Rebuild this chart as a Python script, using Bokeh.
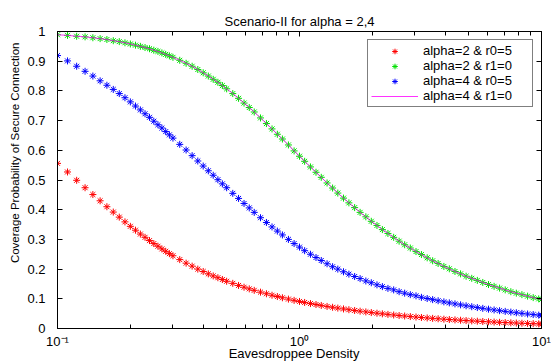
import math
from bokeh.plotting import figure
from bokeh.models import (Range1d, LogAxis, LinearAxis, FixedTicker,
                          Legend, LegendItem, ColumnDataSource, CustomJSTickFormatter)
from bokeh.embed import file_html
from bokeh.resources import INLINE

# ---- data ----
density = [0.10, 0.11, 0.12, 0.13, 0.14, 0.15, 0.16, 0.17, 0.18, 0.19, 0.20,
           0.21, 0.22, 0.23, 0.24, 0.25, 0.26, 0.27, 0.28, 0.29, 0.30,
           0.32, 0.34, 0.36, 0.38, 0.40, 0.42, 0.44, 0.46, 0.48, 0.50,
           0.53, 0.56, 0.59, 0.62, 0.65, 0.69, 0.73, 0.77, 0.81, 0.85, 0.90, 0.95, 1.00,
           1.05, 1.11, 1.17, 1.23, 1.30, 1.37, 1.44, 1.52, 1.60, 1.69, 1.78, 1.88, 1.98,
           2.09, 2.20, 2.32, 2.45, 2.58, 2.72, 2.87, 3.03, 3.19, 3.37, 3.55, 3.74, 3.95,
           4.16, 4.39, 4.63, 4.88, 5.15, 5.43, 5.72, 6.04, 6.37, 6.71, 7.08, 7.47, 7.87,
           8.30, 8.76, 9.24, 9.74, 10.0]

# alpha=2 & r0=5 (red)
a2_r0 = [0.556, 0.527, 0.499, 0.474, 0.451, 0.430, 0.410, 0.392, 0.375, 0.359, 0.344,
         0.331, 0.318, 0.307, 0.296, 0.286, 0.277, 0.268, 0.260, 0.252, 0.245,
         0.232, 0.220, 0.210, 0.200, 0.192, 0.184, 0.177, 0.171, 0.165, 0.159,
         0.152, 0.145, 0.139, 0.1335, 0.1285, 0.1224, 0.1170, 0.1120, 0.1076, 0.1035, 0.0990, 0.0948, 0.0911,
         0.0877, 0.0840, 0.0807, 0.0776, 0.0743, 0.0714, 0.0687, 0.0659, 0.0633, 0.0607, 0.0583, 0.0559, 0.0537,
         0.0515, 0.0494, 0.0475, 0.0455, 0.0437, 0.0420, 0.0402, 0.0386, 0.0371, 0.0355, 0.0341, 0.0328, 0.0314,
         0.0302, 0.0290, 0.0278, 0.0267, 0.0256, 0.0246, 0.0236, 0.0226, 0.0217, 0.0208, 0.0200, 0.0192, 0.0184,
         0.0177, 0.0169, 0.0163, 0.0156, 0.0153]

# alpha=2 & r1=0 (green)
a2_r1 = [0.989, 0.987, 0.984, 0.982, 0.979, 0.976, 0.973, 0.969, 0.966, 0.962, 0.958,
         0.954, 0.950, 0.946, 0.942, 0.937, 0.933, 0.928, 0.923, 0.918, 0.913,
         0.903, 0.893, 0.883, 0.872, 0.861, 0.850, 0.839, 0.829, 0.818, 0.807,
         0.791, 0.775, 0.759, 0.744, 0.729, 0.709, 0.690, 0.672, 0.654, 0.638, 0.618, 0.598, 0.580,
         0.563, 0.544, 0.526, 0.509, 0.490, 0.473, 0.456, 0.439, 0.423, 0.407, 0.391, 0.376, 0.361,
         0.347, 0.333, 0.320, 0.307, 0.294, 0.282, 0.271, 0.259, 0.249, 0.238, 0.228, 0.219, 0.209,
         0.201, 0.192, 0.184, 0.176, 0.169, 0.162, 0.155, 0.148, 0.142, 0.136, 0.130, 0.124, 0.119,
         0.114, 0.109, 0.104, 0.0998, 0.0976]

# alpha=4 & r0=5 (blue)
a4_r0 = [0.919, 0.901, 0.883, 0.866, 0.850, 0.834, 0.819, 0.805, 0.791, 0.777, 0.763,
         0.749, 0.736, 0.723, 0.711, 0.698, 0.686, 0.675, 0.663, 0.652, 0.641,
         0.620, 0.601, 0.582, 0.564, 0.547, 0.531, 0.516, 0.501, 0.487, 0.474,
         0.455, 0.438, 0.421, 0.406, 0.391, 0.373, 0.357, 0.342, 0.328, 0.315, 0.300, 0.286, 0.274,
         0.262, 0.250, 0.239, 0.229, 0.218, 0.208, 0.200, 0.191, 0.183, 0.175, 0.168, 0.160, 0.154,
         0.147, 0.141, 0.135, 0.130, 0.124, 0.119, 0.114, 0.110, 0.105, 0.101, 0.0972, 0.0935, 0.0897,
         0.0863, 0.0829, 0.0796, 0.0765, 0.0734, 0.0705, 0.0678, 0.0651, 0.0624, 0.0600, 0.0576, 0.0552, 0.0530,
         0.0509, 0.0488, 0.0469, 0.0450, 0.0440]

# alpha=4 & r1=0 (magenta line) -- lies on top of the green curve
a4_r1 = list(a2_r1)

x_ticks = [0.1, 1, 10]
x_minor_ticks = [0.2, 0.3, 0.4, 0.5, 0.6, 0.7, 0.8, 0.9, 2, 3, 4, 5, 6, 7, 8, 9]
x_tick_labels = ["10\u207b\u00b9", "10\u2070", "10\u00b9"]
y_ticks = [0, 0.1, 0.2, 0.3, 0.4, 0.5, 0.6, 0.7, 0.8, 0.9, 1]
y_tick_labels = ["0", "0.1", "0.2", "0.3", "0.4", "0.5", "0.6", "0.7", "0.8", "0.9", "1"]

series_names = ["alpha=2 & r0=5", "alpha=2 & r1=0", "alpha=4 & r0=5", "alpha=4 & r1=0"]
title_text = "Scenario-II for alpha = 2,4"
x_label_text = "Eavesdroppee Density"
y_label_text = "Coverage Probability of Secure Connection"

FONT = "Liberation Sans"
NBSP = "\u00a0"

src = ColumnDataSource(dict(density=density, a2_r0=a2_r0, a2_r1=a2_r1,
                            a4_r0=a4_r0, a4_r1=a4_r1))

LOOKUP = """
for (let i = 0; i < tk.length; i++) {
  if (Math.abs(tick - tk[i]) <= 1e-6 * Math.max(1, Math.abs(tk[i]))) return lb[i];
}
return '';
"""

p = figure(width=551, height=363, x_axis_type="log",
           x_range=Range1d(0.1, 10), y_range=Range1d(0, 1),
           output_backend="svg", toolbar_location=None,
           min_border_left=57, min_border_right=10,
           min_border_top=31, min_border_bottom=35)
p.grid.visible = False
p.outline_line_color = "black"
p.outline_line_width = 1
p.background_fill_color = "white"
p.border_fill_color = "white"

p.title.text = title_text
p.title.align = "center"
p.title.text_font = FONT
p.title.text_font_size = "13px"
p.title.text_font_style = "normal"
p.title.text_color = "black"
p.title.standoff = 6


def style(ax, minor=True, label_size="13px"):
    ax.axis_line_color = "black"
    ax.major_tick_in = 5
    ax.major_tick_out = 0
    ax.minor_tick_in = 4 if minor else 0
    ax.minor_tick_out = 0
    ax.major_tick_line_color = "black"
    ax.minor_tick_line_color = "black"
    ax.major_label_text_font = FONT
    ax.major_label_text_color = "black"
    ax.major_label_text_font_size = label_size


xax = p.xaxis[0]
xax.ticker = FixedTicker(ticks=x_ticks, minor_ticks=x_minor_ticks)
xax.formatter = CustomJSTickFormatter(args=dict(tk=x_ticks, lb=x_tick_labels), code=LOOKUP)
style(xax)
xax.major_label_standoff = 5
# trailing no-break spaces nudge the centred label slightly left, as in the original
xax.axis_label = x_label_text + NBSP * 3
xax.axis_label_text_font = FONT
xax.axis_label_text_font_size = "13px"
xax.axis_label_text_font_style = "normal"
xax.axis_label_text_color = "black"
xax.axis_label_standoff = -6

yax = p.yaxis[0]
yax.ticker = FixedTicker(ticks=y_ticks, minor_ticks=[])
yax.formatter = CustomJSTickFormatter(args=dict(tk=y_ticks, lb=y_tick_labels), code=LOOKUP)
style(yax, minor=False)
yax.major_label_standoff = 12
# leading no-break spaces move the visible label upward, as in the original
yax.axis_label = NBSP * 17 + y_label_text
yax.axis_label_text_font = FONT
yax.axis_label_text_font_size = "11.5px"
yax.axis_label_text_font_style = "normal"
yax.axis_label_text_color = "black"
yax.axis_label_standoff = 3

top = LogAxis(ticker=FixedTicker(ticks=x_ticks, minor_ticks=x_minor_ticks),
              formatter=CustomJSTickFormatter(code="return '';"))
style(top, label_size="1px")
top.major_label_standoff = 0
p.add_layout(top, "above")

right = LinearAxis(ticker=FixedTicker(ticks=y_ticks, minor_ticks=[]),
                   formatter=CustomJSTickFormatter(code="return '';"))
style(right, minor=False, label_size="1px")
right.major_label_standoff = 0
p.add_layout(right, "right")

r_red = p.scatter("density", "a2_r0", source=src, marker="asterisk", size=7,
                  line_color="#ff0000", line_width=1)
r_green = p.scatter("density", "a2_r1", source=src, marker="asterisk", size=7,
                    line_color="#00e000", line_width=1)
r_blue = p.scatter("density", "a4_r0", source=src, marker="asterisk", size=7,
                   line_color="#0000ff", line_width=1)
r_mag = p.line("density", "a4_r1", source=src, line_color="#ff00ff", line_width=1,
               line_alpha=0.8)

legend = Legend(items=[LegendItem(label=series_names[0], renderers=[r_red]),
                       LegendItem(label=series_names[1], renderers=[r_green]),
                       LegendItem(label=series_names[2], renderers=[r_blue]),
                       LegendItem(label=series_names[3], renderers=[r_mag])],
                location="top_right", margin=8, padding=3, spacing=0,
                glyph_width=47, glyph_height=14, label_height=14, label_width=106,
                label_standoff=5, label_text_font=FONT,
                label_text_font_size="13px", label_text_color="black",
                border_line_color="black", border_line_width=1,
                background_fill_color="white", background_fill_alpha=1)
p.add_layout(legend)

open("out.html", "w").write(file_html(p, INLINE))
